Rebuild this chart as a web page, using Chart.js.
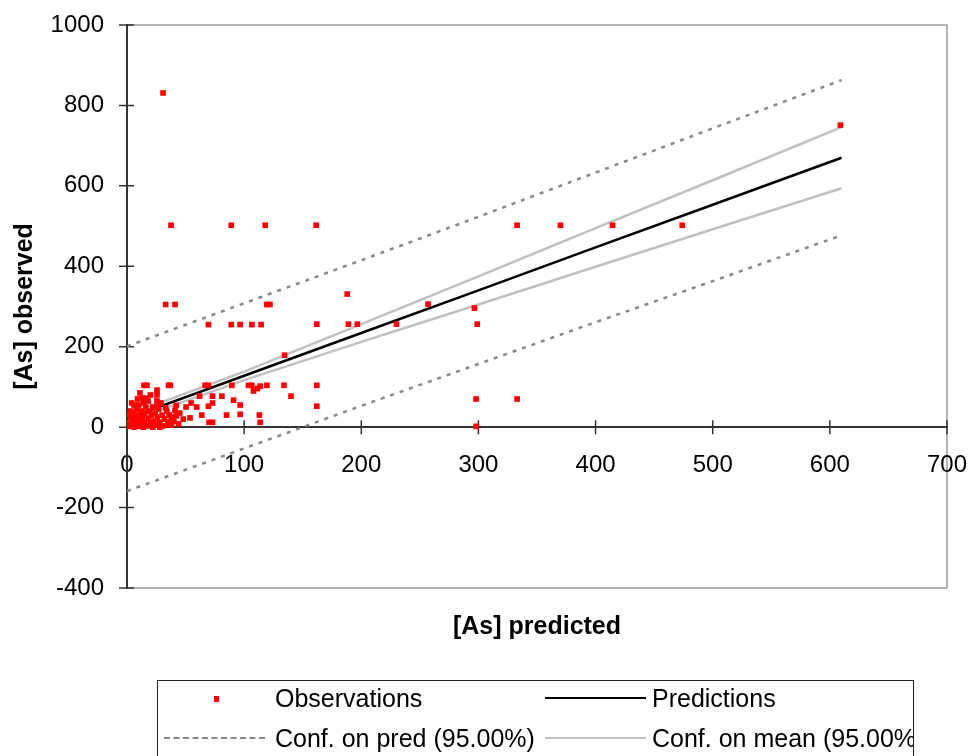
<!DOCTYPE html>
<html>
<head>
<meta charset="utf-8">
<script src="https://cdn.jsdelivr.net/npm/chart.js@4/dist/chart.umd.min.js"></script>
<style>
  body { margin: 0; background: #fff; font-family: "Liberation Sans", Arial, sans-serif; }
  #wrap { position: relative; width: 972px; height: 756px; overflow: hidden; }
  #legend { position: absolute; left: 157px; top: 680px; width: 757px; height: 100px; box-sizing: border-box; border: 1.5px solid #222; overflow: hidden; }
  .item { position: absolute; font-size: 25px; color: #000; white-space: nowrap; line-height: 30px; }
  .sym { position: absolute; }
</style>
</head>
<body>
<div id="wrap">
  <canvas id="scatterChart" width="972" height="756"></canvas>
  <div id="legend">
    <div class="sym" style="left:56px;top:15px;width:5px;height:6px;background:#ff0000;"></div>
    <div class="item" style="left:117px;top:2px;">Observations</div>
    <div class="sym" style="left:387px;top:16px;width:101px;border-top:2.5px solid #000;"></div>
    <div class="item" style="left:494px;top:2px;">Predictions</div>
    <div class="sym" style="left:6px;top:56px;width:101px;border-top:2.5px dashed #888;"></div>
    <div class="item" style="left:117px;top:42px;">Conf. on pred (95.00%)</div>
    <div class="sym" style="left:387px;top:56px;width:101px;border-top:2.5px solid #c0c0c0;"></div>
    <div class="item" style="left:494px;top:42px;">Conf. on mean (95.00%)</div>
  </div>
</div>
<script>
// observations
const obsX = [30.8, 37.6, 89, 118, 161.5, 333, 370, 414.5, 474, 609,
  33, 41, 119.4, 122, 257, 188, 296.6,
  69.5, 89, 96.6, 106.6, 114.5, 162, 189, 196.6, 230, 299,
  134.5,
  14.5, 17, 35.5, 37, 66.7, 69.5, 89.5, 103.7, 106.5, 113.7, 111.4, 108, 119.4, 134, 162,
  13, 25.6, 25.6, 25.6, 25.6,
  62, 73, 81, 91, 96.6, 73, 69.5, 63.8, 85, 96.6, 113, 113.7, 70, 73, 140, 162,
  54.7, 50.4, 59.5, 53.8, 41, 42, 36, 30.5,
  298, 333, 298,
  1, 2, 2, 3, 3, 4, 5, 5, 6, 6, 7, 8, 8, 9, 9, 10, 10, 11, 12, 12,
  13, 14, 15, 15, 16, 17, 18, 18, 19, 20, 21, 22, 23, 24, 25, 26, 27, 28, 30, 32,
  34, 35, 38, 40, 45, 48, 20, 16, 11, 4, 29, 33, 36, 42, 28, 22, 14, 38, 44];
const obsY = [831, 502, 502, 502, 502, 502, 502, 502, 502, 751,
  305, 305, 305, 305, 306, 331, 296,
  255, 255, 255, 255, 255, 256, 256, 256, 256, 256,
  179,
  104, 104, 104, 104, 104, 104, 104, 104, 104, 102, 96, 90, 104, 104, 104,
  72, 92, 80, 65, 52,
  77, 77, 77, 67, 55, 60, 52, 30, 30, 32, 30, 12, 12, 12, 77, 52,
  60, 50, 50, 23, 42, 54, 13, 3,
  70, 70, 2,
  2, 10, 30, 25, 40, 5, 15, 35, 0, 55, 20, 8, 45, 30, 70, 2, 55, 18, 40, 5,
  25, 60, 12, 35, 50, 3, 22, 65, 40, 10, 30, 50, 15, 35, 5, 25, 45, 12, 30, 20,
  40, 8, 25, 15, 35, 20, 80, 72, 85, 60, 60, 48, 30, 28, 0, 0, 0, 5, 8];

// model lines
const lineX = [0, 100, 200, 300, 400, 500, 610];
const predY = [21.5, 127.8, 234, 340, 447, 553, 670];
const meanUpper = [30, 138, 256, 375, 495, 614, 746];
const meanLower = [13, 117, 212, 305, 399, 492, 594];
const predUpper = [201, 308, 415, 523, 633, 743, 863];
const predLower = [-159, -53, 53, 157, 261, 363, 477];

// axis ticks
const xTicks = [0, 100, 200, 300, 400, 500, 600, 700];
const yTicks = [-400, -200, 0, 200, 400, 600, 800, 1000];

const pts = (xs, ys) => xs.map((x, i) => ({ x, y: ys[i] }));
const FONT = '"Liberation Sans", Arial, sans-serif';

// keep the plot area where the layout padding puts it
const noPad = (s) => {
  s.paddingLeft = 0;
  s.paddingRight = 0;
  s.paddingTop = 0;
  s.paddingBottom = 0;
};

// plot area frame + crossing tick marks
const frame = {
  id: 'frame',
  beforeDraw(chart) {
    const { ctx, chartArea: a } = chart;
    ctx.save();
    ctx.strokeStyle = '#9a9a9a';
    ctx.lineWidth = 1.5;
    ctx.strokeRect(a.left, a.top, a.right - a.left, a.bottom - a.top);
    ctx.restore();
  },
  beforeDatasetsDraw(chart) {
    const { ctx, scales: { x, y } } = chart;
    const x0 = x.getPixelForValue(0);
    const y0 = y.getPixelForValue(0);
    ctx.save();
    ctx.strokeStyle = '#333';
    ctx.lineWidth = 1.5;
    ctx.beginPath();
    xTicks.forEach((v) => {
      const px = x.getPixelForValue(v);
      ctx.moveTo(px, y0 - 7);
      ctx.lineTo(px, y0 + 7);
    });
    yTicks.forEach((v) => {
      const py = y.getPixelForValue(v);
      ctx.moveTo(x0 - 8, py);
      ctx.lineTo(x0 + 7, py);
    });
    ctx.stroke();
    ctx.restore();
  },
};

const ctx = document.getElementById('scatterChart').getContext('2d');
const myChart = new Chart(ctx, {
  type: 'scatter',
  data: {
    datasets: [
      {
        label: 'Observations',
        data: pts(obsX, obsY),
        pointStyle: 'rect',
        pointRadius: 4,
        borderWidth: 0,
        backgroundColor: '#ff0000',
        borderColor: '#ff0000',
      },
      {
        label: 'Predictions',
        data: pts(lineX, predY),
        showLine: true,
        pointRadius: 0,
        borderColor: '#000',
        borderWidth: 2.5,
      },
      {
        label: 'Conf. on mean (95.00%)',
        data: pts(lineX, meanUpper),
        showLine: true,
        pointRadius: 0,
        borderColor: '#c0c0c0',
        borderWidth: 2.5,
      },
      {
        label: 'Conf. on mean lower',
        data: pts(lineX, meanLower),
        showLine: true,
        pointRadius: 0,
        borderColor: '#c0c0c0',
        borderWidth: 2.5,
      },
      {
        label: 'Conf. on pred (95.00%)',
        data: pts(lineX, predUpper),
        showLine: true,
        pointRadius: 0,
        borderColor: '#888',
        borderWidth: 2.5,
        borderDash: [4, 6],
      },
      {
        label: 'Conf. on pred lower',
        data: pts(lineX, predLower),
        showLine: true,
        pointRadius: 0,
        borderColor: '#888',
        borderWidth: 2.5,
        borderDash: [4, 6],
      },
    ],
  },
  options: {
    responsive: false,
    animation: false,
    layout: { padding: { left: 0, top: 25, right: 25, bottom: 108 } },
    plugins: {
      legend: { display: false },
      tooltip: { enabled: false },
    },
    scales: {
      x: {
        type: 'linear',
        position: { y: 0 },
        min: 0,
        max: 700,
        afterBuildTicks: (s) => { s.ticks = xTicks.map((v) => ({ value: v })); },
        afterFit: noPad,
        grid: { display: false },
        border: { display: true, color: '#333', width: 2 },
        ticks: { color: '#000', padding: 16, font: { family: FONT, size: 24 }, callback: (v) => String(v) },
      },
      xt: {
        type: 'linear',
        position: 'bottom',
        afterFit: (s) => { noPad(s); s.height = 60; },
        grid: { display: false },
        border: { display: false },
        ticks: { display: false },
        title: {
          display: true,
          text: '[As] predicted',
          color: '#000',
          padding: { top: 0, bottom: 6 },
          font: { family: FONT, size: 25, weight: 'bold' },
        },
      },
      y: {
        type: 'linear',
        position: 'left',
        min: -400,
        max: 1000,
        afterBuildTicks: (s) => { s.ticks = yTicks.map((v) => ({ value: v })); },
        afterFit: (s) => { noPad(s); s.width = 127; },
        grid: { display: false },
        border: { display: true, color: '#333', width: 2 },
        ticks: { color: '#000', padding: 15, font: { family: FONT, size: 24 }, callback: (v) => String(v) },
        title: {
          display: true,
          text: '[As] observed',
          color: '#000',
          padding: { top: 10, bottom: 0 },
          font: { family: FONT, size: 25, weight: 'bold' },
        },
      },
    },
  },
  plugins: [frame],
});
</script>
</body>
</html>
